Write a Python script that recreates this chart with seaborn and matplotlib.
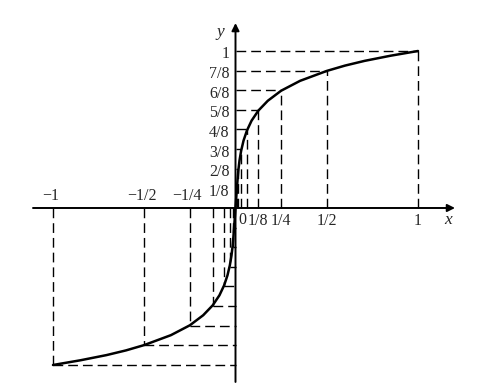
import matplotlib
matplotlib.use("Agg")
import matplotlib.pyplot as plt
import seaborn as sns
import numpy as np

# ---- data ----
# segment break points (positive half); negative half is symmetric
seg_x = [1/128, 1/64, 1/32, 1/16, 1/8, 1/4, 1/2, 1]
seg_y = [1/8, 2/8, 3/8, 4/8, 5/8, 6/8, 7/8, 1]

# points (positive half)
curve_x = [0.0, 0.0078, 0.0114, 0.0156, 0.022, 0.031, 0.044, 0.0625, 0.088,
           0.125, 0.177, 0.25, 0.354, 0.5, 0.6, 0.707, 0.85, 1.0]
curve_y = [0.0, 0.125, 0.183, 0.240, 0.303, 0.365, 0.429, 0.493, 0.556,
           0.620, 0.683, 0.747, 0.810, 0.873, 0.907, 0.937, 0.970, 1.0]

# tick labels
y_labels = ["1/8", "2/8", "3/8", "4/8", "5/8", "6/8", "7/8", "1"]
y_label_vals = seg_y
xpos_labels = ["1/8", "1/4", "1/2", "1"]
xpos_vals = [1/8, 1/4, 1/2, 1]
xneg_labels = ["\u22121", "\u22121/2", "\u22121/4"]
xneg_vals = [-1, -1/2, -1/4]

sns.set_style("white")
plt.rcParams["font.family"] = ["Liberation Serif", "DejaVu Serif"]

fig = plt.figure(figsize=(4.8, 3.92), dpi=100)
ax = fig.add_axes([0, 0, 1, 1])
ax.set_xlim(-1.2904, 1.3397)
ax.set_ylim(-1.172, 1.3248)
ax.axis("off")

# full curve (negative half mirrored)
full_x = [-v for v in curve_x[::-1]] + curve_x[1:]
full_y = [-v for v in curve_y[::-1]] + curve_y[1:]
sns.lineplot(x=full_x, y=full_y, color="black", linewidth=1.8, ax=ax,
             estimator=None, sort=False, legend=False)

dash = (0, (7, 3.6))
for sx, sy in zip(seg_x, seg_y):
    # positive side
    ax.plot([0, sx], [sy, sy], color="black", lw=1.0, linestyle=dash)
    ax.plot([sx, sx], [0, sy], color="black", lw=1.0, linestyle=dash)
    # negative side
    ax.plot([-sx, 0], [-sy, -sy], color="black", lw=1.0, linestyle=dash)
    ax.plot([-sx, -sx], [0, -sy], color="black", lw=1.0, linestyle=dash)

# axes with arrows
arr = dict(arrowstyle="-|>", lw=1.4, color="black", mutation_scale=11,
           shrinkA=0, shrinkB=0)
ax.annotate("", xy=(1.2027, 0), xytext=(-1.1096, 0), arrowprops=arr)
ax.annotate("", xy=(0, 1.178), xytext=(0, -1.108), arrowprops=arr)

fs = 11.5
ax.text(1.164, -0.078, "x", style="italic", fontsize=fs + 1, ha="center", va="center")
ax.text(-0.0849, 1.121, "y", style="italic", fontsize=fs + 1, ha="center", va="center")

for lab, v in zip(y_labels, y_label_vals):
    ax.annotate(lab, xy=(0, v), xytext=(-4.5, -2.5), textcoords="offset points",
                ha="right", va="center", fontsize=fs)

ax.annotate("0", xy=(0, 0), xytext=(5, -8.5), textcoords="offset points",
            ha="center", va="center", fontsize=fs)
for lab, v in zip(xpos_labels, xpos_vals):
    ax.annotate(lab, xy=(v, 0), xytext=(0, -9.5), textcoords="offset points",
                ha="center", va="center", fontsize=fs)
for lab, v in zip(xneg_labels, xneg_vals):
    ax.annotate(lab, xy=(v, 0), xytext=(-2, 8.5), textcoords="offset points",
                ha="center", va="center", fontsize=fs)

fig.savefig("out.png", dpi=100)
